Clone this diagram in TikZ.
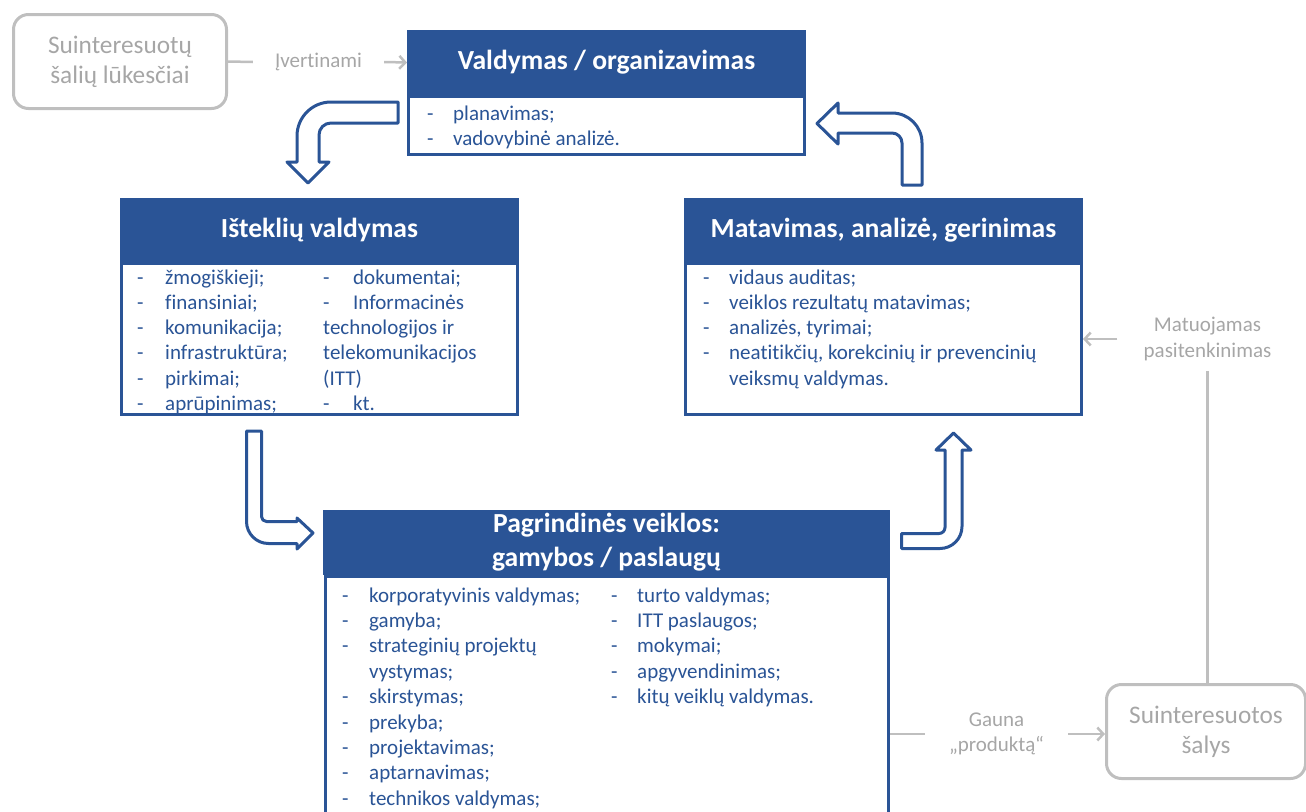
\documentclass[tikz,border=0pt]{standalone}
\usepackage{fontspec}
\setmainfont{Carlito}[Ligatures=NoCommon]
\usepackage{xcolor}
\definecolor{Col1}{RGB}{42,84,150}
\definecolor{Col2}{RGB}{191,191,191}
\definecolor{Col3}{RGB}{166,166,166}
\usepackage{tikz}
\usetikzlibrary{arrows.meta}
\tikzstyle{Head}=[rectangle,fill=Col1,draw=Col1,line width=1pt,text=white,
inner sep=0pt,align=center,font=\fontsize{27.6}{34}\selectfont\bfseries]
\tikzstyle{Body}=[rectangle,fill=white,draw=Col1,line width=3pt,inner sep=0pt]
\tikzstyle{Item}=[anchor=base west,inner sep=0pt,text=Col1,
font=\fontsize{21}{25}\selectfont]
\tikzstyle{Party}=[rectangle,rounded corners=15pt,draw=Col2,line width=3pt,
text=Col3,inner sep=0pt,align=center,font=\fontsize{25.3}{30}\selectfont]
\tikzstyle{Note}=[text=Col3,align=center,font=\fontsize{21}{25.5}\selectfont]
\tikzstyle{Link}=[draw=Col2,line width=2.5pt]
\tikzstyle{LinkTo}=[Link,-{Straight Barb[length=6pt,width=13pt]}]
\tikzstyle{Turn}=[draw=Col1,fill=white,line width=3pt,line join=round]

\begin{document}
\begin{tikzpicture}[x=1pt,y=1pt]
        \useasboundingbox (0,0) rectangle (1306,-811);
        \clip (0,0) rectangle (1306,-811);
        % boxes
        \node[Body,minimum width=396,minimum height=58](vb)at(606.5,-125.5){};
        \node[Head,minimum width=398,minimum height=64](v)at(606.5,-62.5){Valdymas / organizavimas};
        \node[Body,minimum width=396,minimum height=151](ib)at(319.5,-339){};
        \node[Head,minimum width=398,minimum height=63](i)at(319.5,-230){Išteklių valdymas};
        \node[Body,minimum width=396,minimum height=151](mb)at(883.5,-339){};
        \node[Head,minimum width=398,minimum height=63](m)at(883.5,-230){Matavimas, analizė, gerinimas};
        \node[Body,minimum width=563,minimum height=253](pb)at(607,-703){};
        \node[Head,minimum width=566,minimum height=64](p)at(606.5,-542.5){Pagrindinės veiklos:\\gamybos / paslaugų};
        \node[Party,minimum width=213,minimum height=94](lk)at(120,-61.5){Suinteresuotų\\šalių lūkesčiai};
        \node[Party,minimum width=199,minimum height=94](sz)at(1206,-731.5){Suinteresuotos\\šalys};
        % lists
        \foreach \t [count=\k from 0] in {planavimas;,vadovybinė analizė.}{
            \node[Item](vd\k)at(427,-120.5-25.2*\k){-};
            \node[Item](vt\k)at(453,-120.5-25.2*\k){\t};
        }
        \foreach \t [count=\k from 0] in {žmogiškieji;,finansiniai;,komunikacija;,
            infrastruktūra;,pirkimai;,aprūpinimas;}{
            \node[Item](id\k)at(137,-284-25.3*\k){-};
            \node[Item](it\k)at(165,-284-25.3*\k){\t};
        }
        \node[Item](jd0)at(323,-284){-};
        \node[Item](jt0)at(353,-284){dokumentai;};
        \node[Item](jd1)at(323,-309.3){-};
        \node[Item](jt1)at(353,-309.3){Informacinės};
        \node[Item](jt2)at(323,-334.6){technologijos ir};
        \node[Item](jt3)at(323,-359.9){telekomunikacijos};
        \node[Item](jt4)at(323,-385.2){(ITT)};
        \node[Item](jd5)at(323,-410.5){-};
        \node[Item](jt5)at(353,-410.5){kt.};
        \foreach \t [count=\k from 0] in {vidaus auditas;,veiklos rezultatų matavimas;,
            {analizės, tyrimai;},{neatitikčių, korekcinių ir prevencinių}}{
            \node[Item](md\k)at(703,-284-25.3*\k){-};
            \node[Item](mt\k)at(729,-284-25.3*\k){\t};
        }
        \node[Item](mt4)at(729,-385.2){veiksmų valdymas.};
        \foreach \t/\k in {korporatyvinis valdymas;/0,gamyba;/1,strateginių projektų/2,
            skirstymas;/4,prekyba;/5,projektavimas;/6,aptarnavimas;/7,technikos valdymas;/8}{
            \node[Item](pd\k)at(342,-602-25.4*\k){-};
            \node[Item](pt\k)at(369,-602-25.4*\k){\t};
        }
        \node[Item](pt3)at(369,-678.2){vystymas;};
        \foreach \t [count=\k from 0] in {turto valdymas;,ITT paslaugos;,mokymai;,
            apgyvendinimas;,kitų veiklų valdymas.}{
            \node[Item](qd\k)at(611,-602-25.4*\k){-};
            \node[Item](qt\k)at(637,-602-25.4*\k){\t};
        }
        % notes and grey links
        \node[Note,inner xsep=22pt](iv)at(318.5,-62){Įvertinami};
        \node[Note,inner xsep=26pt,inner ysep=10pt](mp)at(1207.5,-339){Matuojamas\\pasitenkinimas};
        \node[Note,inner xsep=24pt](gp)at(996.5,-734){Gauna\\„produktą“};
        \draw[Link](lk.east)--(iv.west);
        \draw[LinkTo](iv.east)--(v.west);
        \draw[LinkTo](mp.west)--(mb.east|-mp.west);
        \draw[Link](mp.south)--(mp.south|-sz.north);
        \draw[Link](pb.east|-gp.west)--(gp.west);
        \draw[LinkTo](gp.east)--(sz.west|-gp.east);
        % bent block arrows
        \draw[Turn](398,-102)--(331,-102)arc[start angle=90,end angle=180,radius=34]
            --(297,-162)--(287,-162)--(308,-183)--(329,-162)--(319,-162)--(319,-135)
            arc[start angle=180,end angle=90,radius=12]--(398,-123)--cycle;
        \draw[Turn](902,-185)--(922,-185)--(922,-143)arc[start angle=0,end angle=90,radius=30]
            --(838,-113)--(838,-103)--(817,-123.5)--(838,-144)--(838,-133)--(892,-133)
            arc[start angle=90,end angle=0,radius=10]--cycle;
        \draw[Turn](246.5,-431)--(261.5,-431)--(261.5,-516.5)
            arc[start angle=180,end angle=270,radius=5]--(297,-521.5)--(297,-518)
            --(313,-533)--(297,-549)--(297,-543.5)--(268.5,-543.5)
            arc[start angle=270,end angle=180,radius=22]--cycle;
        \draw[Turn](901.5,-533.5)--(939,-533.5)arc[start angle=270,end angle=360,radius=6]
            --(945,-450)--(936,-450)--(953.5,-433)--(971,-450)--(962,-450)--(962,-526.5)
            arc[start angle=0,end angle=-90,radius=22]--(901.5,-548.5)--cycle;
    \end{tikzpicture}
\end{document}
